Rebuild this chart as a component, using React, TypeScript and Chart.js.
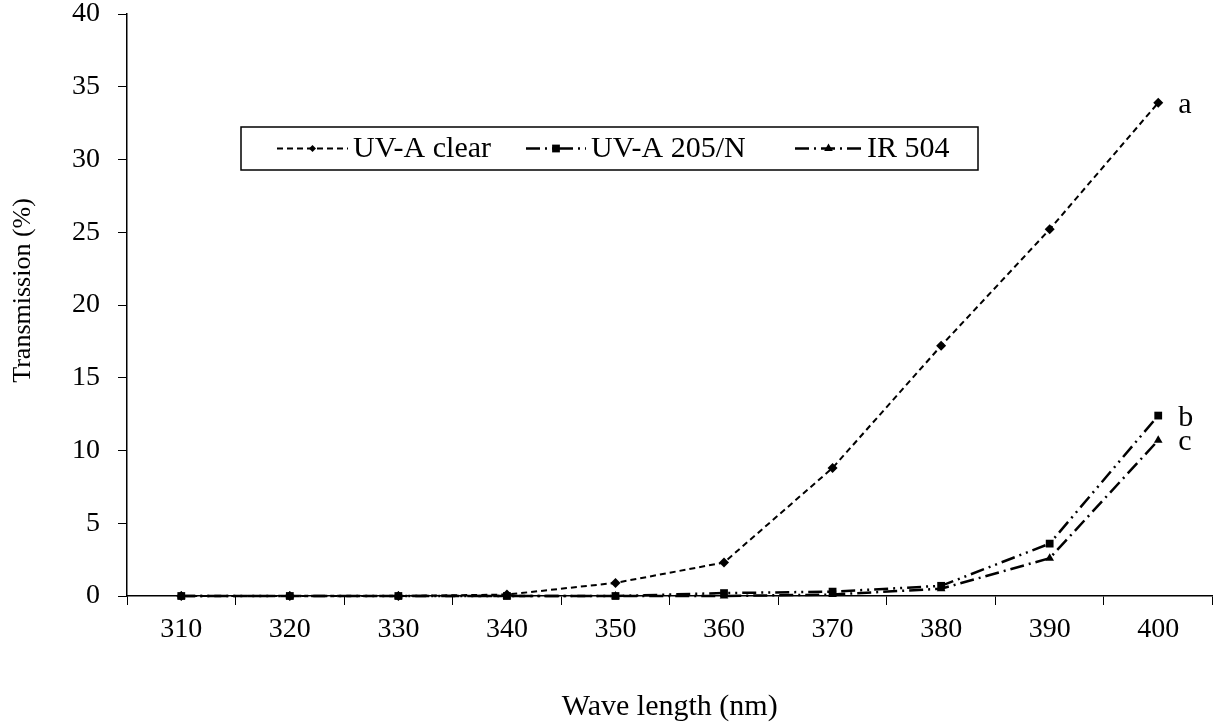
import React, { useEffect, useRef } from 'react';
import { Chart, registerables } from 'chart.js';

Chart.register(...registerables);

const FONT = "'Liberation Serif', 'Times New Roman', serif";

// ---- data ----
const categories = ['310', '320', '330', '340', '350', '360', '370', '380', '390', '400'];
const uvaClear = [0, 0, 0, 0.1, 0.9, 2.3, 8.8, 17.2, 25.2, 33.9];
const uva205N = [0, 0, 0, 0, 0, 0.2, 0.3, 0.7, 3.6, 12.4];
const ir504 = [0, 0, 0, 0, 0, 0, 0.1, 0.5, 2.6, 10.7];
const seriesNames = ['UV-A clear', 'UV-A 205/N', 'IR 504'];
const endLabels = ['a', 'b', 'c'];
const yMin = 0;
const yMax = 40;
const yStep = 5;
const xTitle = 'Wave length (nm)';
const yTitle = 'Transmission (%)';

type Style = { dash: number[]; point: 'rectRot' | 'rect' | 'triangle'; radius: number; width: number };

const styles: Style[] = [
  { dash: [6, 4], point: 'rectRot', radius: 5, width: 2 },
  { dash: [14, 5, 2, 5, 2, 5], point: 'rect', radius: 5.5, width: 2.5 },
  { dash: [14, 5, 2, 5], point: 'triangle', radius: 5, width: 2.5 },
];

// legend layout (offsets inside the legend box)
const legendSampleX = [36, 285, 554];
const legendSampleW = [71, 60, 67];

function drawMarker(ctx: CanvasRenderingContext2D, style: string, x: number, y: number, r: number) {
  ctx.save();
  ctx.setLineDash([]);
  ctx.fillStyle = '#000';
  ctx.beginPath();
  if (style === 'rect') {
    const s = r * Math.SQRT1_2;
    ctx.rect(x - s, y - s, 2 * s, 2 * s);
  } else if (style === 'rectRot') {
    const s = r * Math.SQRT1_2;
    ctx.moveTo(x - s, y);
    ctx.lineTo(x, y + s);
    ctx.lineTo(x + s, y);
    ctx.lineTo(x, y - s);
    ctx.closePath();
  } else {
    ctx.moveTo(x, y - r);
    ctx.lineTo(x + r * 0.866, y + r * 0.5);
    ctx.lineTo(x - r * 0.866, y + r * 0.5);
    ctx.closePath();
  }
  ctx.fill();
  ctx.restore();
}

const legendPlugin = {
  id: 'customLegend',
  afterDraw(chart: any) {
    const ctx: CanvasRenderingContext2D = chart.ctx;
    const box = { x: 241, y: 127, w: 737, h: 43 };
    ctx.save();
    ctx.fillStyle = '#fff';
    ctx.fillRect(box.x, box.y, box.w, box.h);
    ctx.strokeStyle = '#000';
    ctx.lineWidth = 1.5;
    ctx.setLineDash([]);
    ctx.strokeRect(box.x, box.y, box.w, box.h);
    ctx.font = `30px ${FONT}`;
    ctx.textBaseline = 'middle';
    ctx.textAlign = 'left';
    const cy = box.y + box.h / 2;
    seriesNames.forEach((name, i) => {
      const st = styles[i];
      const x = box.x + legendSampleX[i];
      const w = legendSampleW[i];
      ctx.strokeStyle = '#000';
      ctx.lineWidth = st.width;
      ctx.setLineDash(st.dash);
      ctx.beginPath();
      ctx.moveTo(x, cy);
      ctx.lineTo(x + w, cy);
      ctx.stroke();
      drawMarker(ctx, st.point, x + w / 2, cy, st.radius);
      ctx.setLineDash([]);
      ctx.fillStyle = '#000';
      ctx.fillText(name, x + w + 5, cy + 1);
    });
    ctx.restore();
  },
};

const yTitlePlugin = {
  id: 'yTitle',
  afterDraw(chart: any) {
    const ctx: CanvasRenderingContext2D = chart.ctx;
    ctx.save();
    ctx.font = `26px ${FONT}`;
    ctx.fillStyle = '#000';
    ctx.textAlign = 'center';
    ctx.textBaseline = 'middle';
    ctx.translate(23, chart.chartArea.top + (chart.chartArea.bottom - chart.chartArea.top) * 0.475);
    ctx.rotate(-Math.PI / 2);
    ctx.fillText(yTitle, 0, 0);
    ctx.restore();
  },
};

const endLabelPlugin = {
  id: 'endLabels',
  afterDatasetsDraw(chart: any) {
    const ctx: CanvasRenderingContext2D = chart.ctx;
    ctx.save();
    ctx.font = `30px ${FONT}`;
    ctx.fillStyle = '#000';
    ctx.textAlign = 'left';
    ctx.textBaseline = 'alphabetic';
    endLabels.forEach((lab, i) => {
      const meta = chart.getDatasetMeta(i);
      const pt = meta.data[meta.data.length - 1];
      if (pt) ctx.fillText(lab, pt.x + 20, pt.y + 10);
    });
    ctx.restore();
  },
};

export default function App() {
  const ref = useRef<HTMLCanvasElement>(null);
  useEffect(() => {
    if (!ref.current) return;
    const series = [uvaClear, uva205N, ir504];
    const chart = new Chart(ref.current, {
      type: 'line',
      data: {
        labels: categories,
        datasets: series.map((d, i) => ({
          label: seriesNames[i],
          data: d,
          borderColor: '#000',
          backgroundColor: '#000',
          borderWidth: styles[i].width,
          borderDash: styles[i].dash,
          pointStyle: styles[i].point,
          pointRadius: styles[i].radius,
          pointBorderWidth: 0,
          pointBackgroundColor: '#000',
          fill: false,
          tension: 0,
          clip: false as any,
        })),
      },
      options: {
        responsive: true,
        maintainAspectRatio: false,
        animation: false,
        layout: { padding: { top: 14, right: 5, left: 0, bottom: 0 } },
        plugins: {
          legend: { display: false },
          tooltip: { enabled: false },
        },
        scales: {
          x: {
            type: 'category',
            offset: true,
            grid: {
              offset: true,
              drawOnChartArea: false,
              drawTicks: true,
              tickLength: 9,
              color: '#000',
              lineWidth: 1,
            },
            border: { color: '#000', width: 1.5 },
            ticks: { color: '#000', font: { family: FONT, size: 28 }, padding: 8, maxRotation: 0, autoSkip: false },
            title: {
              display: true,
              text: xTitle,
              color: '#000',
              font: { family: FONT, size: 30 },
              padding: { top: 0, bottom: 0 },
            },
            afterFit(scale: any) {
              scale.height = 129;
              scale.paddingLeft = 0;
              scale.paddingRight = 0;
            },
          },
          y: {
            min: yMin,
            max: yMax,
            grid: {
              drawOnChartArea: false,
              drawTicks: true,
              tickLength: 9,
              color: '#000',
              lineWidth: 1,
            },
            border: { color: '#000', width: 1.5 },
            ticks: { stepSize: yStep, color: '#000', font: { family: FONT, size: 28 }, padding: 18 },
            title: { display: false },
            afterFit(scale: any) {
              scale.width = 127;
              scale.paddingTop = 0;
              scale.paddingBottom = 0;
            },
          },
        },
      },
      plugins: [legendPlugin, endLabelPlugin, yTitlePlugin],
    });
    return () => chart.destroy();
  }, []);
  return (
    <div style={{ position: 'fixed', left: 0, top: 0, width: 1218, height: 725, background: '#fff' }}>
      <canvas ref={ref} />
    </div>
  );
}
